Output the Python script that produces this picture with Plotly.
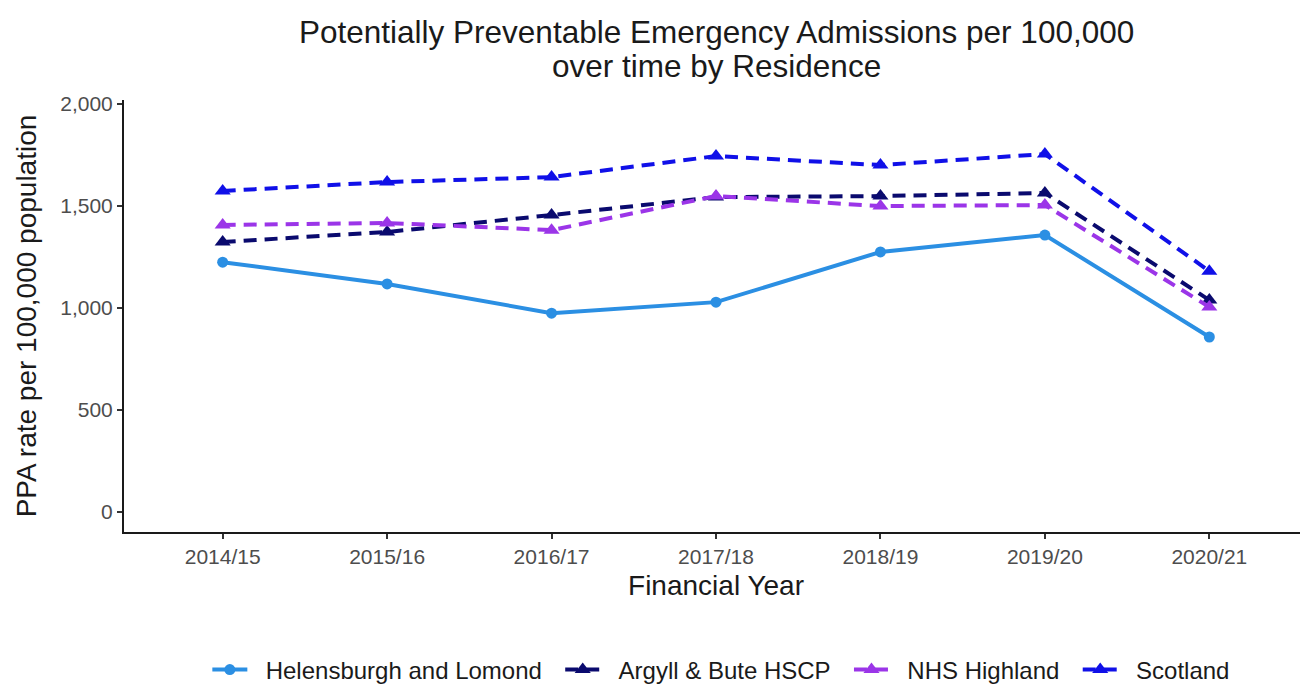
import plotly.graph_objects as go

# data
years = ["2014/15", "2015/16", "2016/17", "2017/18", "2018/19", "2019/20", "2020/21"]
helensburgh = [1225, 1118, 975, 1029, 1275, 1358, 858]
argyll_bute = [1324, 1373, 1456, 1544, 1549, 1564, 1039]
nhs_highland = [1407, 1417, 1382, 1549, 1500, 1505, 1005]
scotland = [1574, 1618, 1642, 1745, 1701, 1755, 1181]

FONT = "Liberation Sans, Arial, sans-serif"
PAD = "\u00a0\u00a0"  # a bit of room round each legend label
DASH = "13px,8px"
LW = 4

fig = go.Figure()

fig.add_trace(go.Scatter(
    x=years, y=helensburgh, name=PAD + "Helensburgh and Lomond" + PAD, mode="lines+markers",
    line=dict(color="#2B8FE3", width=LW),
    marker=dict(symbol="circle", size=11, color="#2B8FE3"),
))
fig.add_trace(go.Scatter(
    x=years, y=argyll_bute, name=PAD + "Argyll & Bute HSCP" + PAD, mode="lines+markers",
    line=dict(color="#0A0A6E", width=LW, dash=DASH),
    marker=dict(symbol="triangle-up", size=14, color="#0A0A6E"),
))
fig.add_trace(go.Scatter(
    x=years, y=nhs_highland, name=PAD + "NHS Highland" + PAD, mode="lines+markers",
    line=dict(color="#9B35E8", width=LW, dash=DASH),
    marker=dict(symbol="triangle-up", size=14, color="#9B35E8"),
))
fig.add_trace(go.Scatter(
    x=years, y=scotland, name=PAD + "Scotland" + PAD, mode="lines+markers",
    line=dict(color="#1010E8", width=LW, dash=DASH),
    marker=dict(symbol="triangle-up", size=14, color="#1010E8"),
))

# page body has an 8px margin, so the figure is 8px smaller than the window
W, H = 1300, 676

fig.update_layout(
    width=W, height=H,
    margin=dict(l=116, r=0, t=92, b=152, autoexpand=False),
    plot_bgcolor="white", paper_bgcolor="white",
    font=dict(family=FONT, color="#000000"),
    legend=dict(
        orientation="h", x=0.51, xanchor="center", yref="container", y=14 / H, yanchor="middle",
        font=dict(size=24, color="#1a1a1a"), itemwidth=35,
    ),
    showlegend=True,
)

# title as two lines so the line spacing can follow the reference
title_lines = ["Potentially Preventable Emergency Admissions per 100,000", "over time by Residence"]
for txt, ypix in zip(title_lines, [24, 58]):
    fig.add_annotation(
        text=txt, xref="paper", x=0.5, xanchor="center",
        yref="paper", y=1 + (92 - ypix) / (H - 92 - 152), yanchor="middle",
        showarrow=False, font=dict(size=31.5, color="#1a1a1a"),
    )

fig.update_xaxes(
    range=[-0.6, 6.6], showgrid=False, zeroline=False, automargin=False,
    showline=True, linecolor="#1a1a1a", linewidth=2,
    ticks="outside", ticklen=5, tickcolor="#333333", tickwidth=1.5,
    tickfont=dict(size=21, color="#4D4D4D"),
    title=dict(text="Financial Year", font=dict(size=28, color="#1a1a1a"), standoff=8),
)
fig.update_yaxes(
    range=[-98, 2020], showgrid=False, zeroline=False, automargin=False,
    showline=True, linecolor="#1a1a1a", linewidth=2,
    tickvals=[0, 500, 1000, 1500, 2000], ticktext=["0", "500", "1,000", "1,500", "2,000"],
    ticks="outside", ticklen=5, tickcolor="#333333", tickwidth=1.5,
    tickfont=dict(size=21, color="#4D4D4D"),
    title=dict(text="PPA rate per 100,000 population", font=dict(size=28, color="#1a1a1a"), standoff=15),
)

fig.write_html("out.html")
